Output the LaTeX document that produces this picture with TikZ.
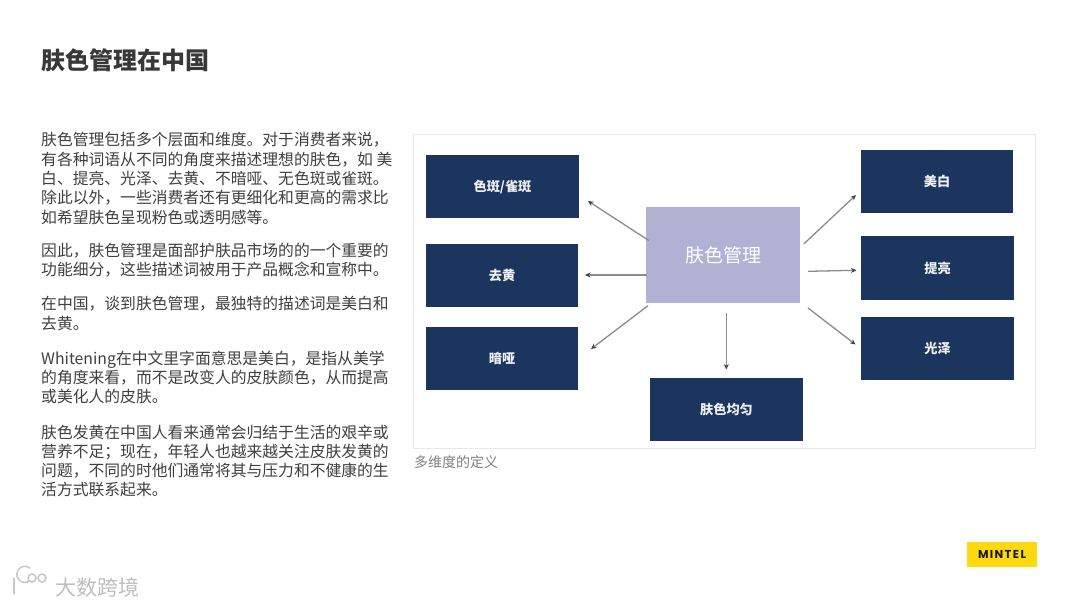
\documentclass[tikz,border=0pt]{standalone}
\usepackage{fontspec}
\setmainfont{Noto Sans CJK SC}
\usetikzlibrary{arrows.meta}
\newfontfamily\logofont{Poppins}
\definecolor{navy}{HTML}{1C355E}
\definecolor{lilac}{HTML}{B0B1D3}
\definecolor{bodyink}{HTML}{404040}
\definecolor{arrowline}{HTML}{8C8C8C}
\definecolor{arrowtip}{HTML}{3A4257}
\definecolor{mintel}{HTML}{FFD90F}
\tikzset{
  x=1pt,y=-1pt,
  para/.style={anchor=west,inner sep=0pt,align=left,text=bodyink,font=\fontsize{15.8}{19.3}\selectfont},
  navybox/.style={fill=navy,draw=none,text=white!92!navy,font=\fontsize{13.2}{15}\selectfont\bfseries,inner sep=0pt},
  hubbox/.style={fill=lilac,draw=none,text=white,font=\fontsize{19}{22}\selectfont,inner sep=0pt},
  spoke/.style={draw=arrowline,line width=1.3pt,-{Stealth[length=5.5pt,width=5pt,color=arrowtip]}},
  wmark/.style={draw=black!22,line width=1.5pt}
}
\begin{document}
\begin{tikzpicture}
\useasboundingbox (0,0) rectangle (1080,607);
\fill[white] (0,0) rectangle (1080,607);
% title
\node[anchor=west,inner sep=0pt,text=black!78,font=\fontsize{24}{28}\selectfont\bfseries] (title) at (41,60) {肤色管理在中国};
% body
\node[para] (p1) at (41,178.5) {肤色管理包括多个层面和维度。对于消费者来说，\\有各种词语从不同的角度来描述理想的肤色，如 美\\白、提亮、光泽、去黄、不暗哑、无色斑或雀斑。\\除此以外，一些消费者还有更细化和更高的需求比\\如希望肤色呈现粉色或透明感等。};
\node[para] (p2) at (41,260) {因此，肤色管理是面部护肤品市场的的一个重要的\\功能细分，这些描述词被用于产品概念和宣称中。};
\node[para] (p3) at (41,313.5) {在中国，谈到肤色管理，最独特的描述词是美白和\\去黄。};
\node[para] (p4) at (41,377.5) {Whitening在中文里字面意思是美白，是指从美学\\的角度来看，而不是改变人的皮肤颜色，从而提高\\或美化人的皮肤。};
\node[para] (p5) at (41,461) {肤色发黄在中国人看来通常会归结于生活的艰辛或\\营养不足；现在，年轻人也越来越关注皮肤发黄的\\问题，不同的时他们通常将其与压力和不健康的生\\活方式联系起来。};
% panel
\draw[draw=black!9,line width=1pt] (413.5,134.5) rectangle (1035.5,448);
\node[anchor=west,inner sep=0pt,text=black!50,font=\fontsize{14}{16}\selectfont] (cap) at (414,462) {多维度的定义};
% boxes
\node[navybox,minimum width=153pt,minimum height=63pt] (spots) at (502.5,186.5) {\raisebox{-1.5pt}{色斑/雀斑}};
\node[navybox,minimum width=152pt,minimum height=63pt] (yellow) at (502,275.5) {去黄};
\node[navybox,minimum width=152pt,minimum height=63pt] (dull) at (502,358.5) {暗哑};
\node[navybox,minimum width=153pt,minimum height=63pt] (even) at (726.5,409.5) {肤色均匀};
\node[navybox,minimum width=152pt,minimum height=63pt] (white) at (937,181.5) {美白};
\node[navybox,minimum width=153pt,minimum height=64pt] (bright) at (937.5,268) {提亮};
\node[navybox,minimum width=153pt,minimum height=63pt] (gloss) at (937.5,348.5) {光泽};
\node[hubbox,minimum width=154pt,minimum height=95pt] (hub) at (723,255) {肤色管理};
% arrow ends
\coordinate (a1s) at (649,240.7); \coordinate (a1e) at (588,201);
\coordinate (a2s) at (647,275);   \coordinate (a2e) at (585,275);
\coordinate (a3s) at (648,305.7); \coordinate (a3e) at (591,349);
\coordinate (a4s) at (726.3,312.7); \coordinate (a4e) at (726.3,369.5);
\coordinate (a5s) at (803.7,244); \coordinate (a5e) at (856,195);
\coordinate (a6s) at (808,271.3); \coordinate (a6e) at (856.5,270.3);
\coordinate (a7s) at (808,308);   \coordinate (a7e) at (855.5,344.5);
\draw[spoke] (a1s) -- (a1e);
\draw[spoke] (a2s) -- (a2e);
\draw[spoke] (a3s) -- (a3e);
\draw[spoke] (a4s) -- (a4e);
\draw[spoke] (a5s) -- (a5e);
\draw[spoke] (a6s) -- (a6e);
\draw[spoke] (a7s) -- (a7e);
% logo
\node[fill=mintel,minimum width=70pt,minimum height=25pt,inner sep=0pt,text=black!90,font=\logofont\bfseries\fontsize{11.5}{13}\selectfont] (logo) at (1002,554.5) {\addfontfeature{LetterSpace=12}MINTEL};
% watermark
\draw[wmark] (14,578) -- (14,594);
\draw[wmark] (30,580.5) arc (50:310:8);
\draw[wmark] (32,578) circle (4);
\draw[wmark] (42,578) circle (4);
\node[anchor=west,inner sep=0pt,text=black!25,font=\fontsize{21}{24}\selectfont] (wm) at (55,587) {大数跨境};
\end{tikzpicture}
\end{document}
